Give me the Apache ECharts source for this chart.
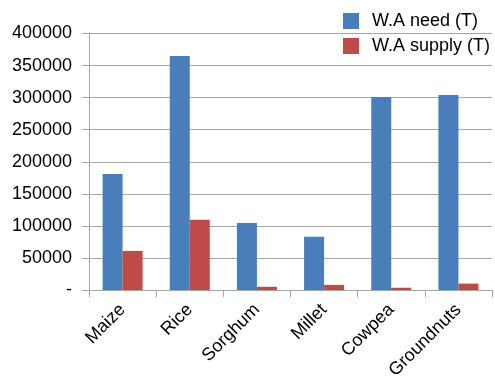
<!DOCTYPE html>
<html>
<head>
<meta charset="utf-8">
<script src="https://cdn.jsdelivr.net/npm/echarts@6/dist/echarts.min.js"></script>
<style>
  html, body { margin: 0; padding: 0; background: #fff; }
  #chart { width: 495px; height: 377px; }
</style>
</head>
<body>
<div id="chart"></div>
<script>
// Crop demand vs. supply in West Africa, tonnes
const crops = ['Maize', 'Rice', 'Sorghum', 'Millet', 'Cowpea', 'Groundnuts'];
const needTonnes = [181000, 365000, 104500, 83000, 301000, 304000];
const supplyTonnes = [61000, 109500, 5000, 8000, 3500, 10000];
const yTicks = { min: 0, max: 400000, step: 50000 };

const font = 'Liberation Sans, Arial, sans-serif';
const gray = '#a6a6a6';

const chart = echarts.init(document.getElementById('chart'), null, { renderer: 'canvas' });
chart.setOption({
  animation: false,
  backgroundColor: '#ffffff',
  grid: { left: 89, right: 3, top: 33.5, bottom: 87, containLabel: false, outerBoundsMode: 'none' },
  legend: {
    orient: 'vertical',
    left: 343,
    top: 12,
    padding: 0,
    itemWidth: 16,
    itemHeight: 16,
    itemGap: 7,
    icon: 'rect',
    textStyle: { fontFamily: font, fontSize: 18, lineHeight: 16, color: '#000', padding: [0, 0, 0, 8] },
    data: ['W.A need (T)', 'W.A supply (T)']
  },
  xAxis: {
    type: 'category',
    data: crops,
    axisLine: { lineStyle: { color: gray, width: 1 } },
    axisTick: { show: true, length: 7, lineStyle: { color: gray }, alignWithLabel: false },
    axisLabel: {
      rotate: 45,
      margin: 17,
      fontFamily: font,
      fontSize: 18,
      color: '#000',
      interval: 0
    }
  },
  yAxis: {
    type: 'value',
    min: yTicks.min,
    max: yTicks.max,
    interval: yTicks.step,
    axisLine: { show: true, lineStyle: { color: gray, width: 1 } },
    axisTick: { show: true, length: 7, lineStyle: { color: gray } },
    splitLine: { lineStyle: { color: gray, width: 1 } },
    axisLabel: {
      margin: 17,
      fontFamily: font,
      fontSize: 18,
      color: '#000',
      formatter: v => (v === 0 ? '-' : String(v))
    }
  },
  series: [
    {
      name: 'W.A need (T)',
      type: 'bar',
      data: needTonnes,
      barWidth: 20,
      barGap: '0%',
      itemStyle: { color: '#4a7ebb' }
    },
    {
      name: 'W.A supply (T)',
      type: 'bar',
      data: supplyTonnes,
      barWidth: 20,
      itemStyle: { color: '#be4b48' }
    }
  ]
});
</script>
</body>
</html>
